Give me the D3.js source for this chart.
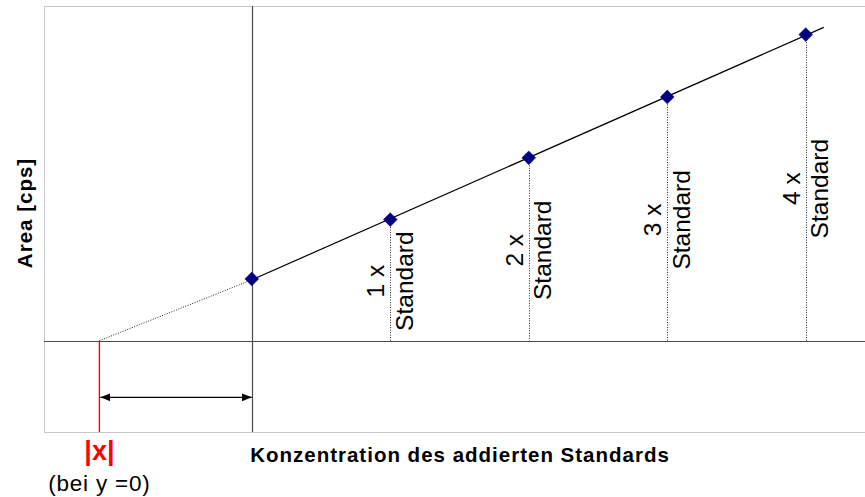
<!DOCTYPE html>
<html>
<head>
<meta charset="utf-8">
<script src="https://cdn.jsdelivr.net/npm/d3@7"></script>
<style>
  html, body { margin: 0; padding: 0; background: #fff; }
  svg { display: block; font-family: "Liberation Sans", Arial, sans-serif; }
</style>
</head>
<body>
<svg id="chart" width="865" height="497"></svg>
<script>
// Standard addition: signal vs. concentration of added standard
const concentration = [0, 1, 2, 3, 4];            // multiples of the standard added
const area = [20.3, 39.8, 60.1, 80.1, 100.6];     // measured area [cps]
const standardLabels = ["", "1 x", "2 x", "3 x", "4 x"];
const xIntercept = -1.1;                           // |x| read at y = 0
const trendEnd = 4.13;                             // right end of the trend line
const arrowLevel = -18.6;                          // height of the |x| distance arrow

const xTitle = "Konzentration des addierten Standards";
const yTitle = "Area [cps]";

const svg = d3.select("#chart");

const x = d3.scaleLinear().domain([-1.5, 4.5]).range([44, 875]);
const y = d3.scaleLinear().domain([-30, 110]).range([432, 6]);

// least-squares fit through the measured points
const mx = d3.mean(concentration), my = d3.mean(area);
const slope = d3.sum(concentration, (c, i) => (c - mx) * (area[i] - my)) /
              d3.sum(concentration, c => (c - mx) * (c - mx));
const intercept = my - slope * mx;
const fit = c => intercept + slope * c;

// plot frame
svg.append("rect")
  .attr("x", x(-1.5) + 0.5).attr("y", y(110) + 0.5)
  .attr("width", x(4.5) - x(-1.5)).attr("height", y(-30) - y(110))
  .attr("fill", "none").attr("stroke", "#c8c8c8").attr("stroke-width", 1);

// axes through the origin
svg.append("line")
  .attr("x1", x(-1.5)).attr("x2", x(4.5))
  .attr("y1", Math.round(y(0)) + 0.5).attr("y2", Math.round(y(0)) + 0.5)
  .attr("stroke", "#4a4a4a").attr("stroke-width", 1.2);
svg.append("line")
  .attr("x1", Math.round(x(0)) + 0.5).attr("x2", Math.round(x(0)) + 0.5)
  .attr("y1", y(110)).attr("y2", y(-30))
  .attr("stroke", "#4a4a4a").attr("stroke-width", 1.2);

// dotted drop lines from each addition to the baseline
svg.append("g").selectAll("line")
  .data(concentration.slice(1).map((c, i) => ({ c, a: area[i + 1] })))
  .join("line")
  .attr("x1", d => Math.round(x(d.c)) + 0.5).attr("x2", d => Math.round(x(d.c)) + 0.5)
  .attr("y1", d => y(d.a)).attr("y2", y(0))
  .attr("stroke", "#222").attr("stroke-width", 1).attr("stroke-dasharray", "1,1.5");

// extrapolation to y = 0 (dotted) and trend line (solid)
svg.append("line")
  .attr("x1", x(xIntercept)).attr("y1", y(0))
  .attr("x2", x(0)).attr("y2", y(fit(0)))
  .attr("stroke", "#222").attr("stroke-width", 1).attr("stroke-dasharray", "1,1.5");
svg.append("line")
  .attr("x1", x(0)).attr("y1", y(fit(0)))
  .attr("x2", x(trendEnd)).attr("y2", y(fit(trendEnd)))
  .attr("stroke", "#000").attr("stroke-width", 1.2);

// |x| marker line
svg.append("line")
  .attr("x1", x(xIntercept)).attr("x2", x(xIntercept))
  .attr("y1", y(0)).attr("y2", y(-30))
  .attr("stroke", "#ff0000").attr("stroke-width", 1.4);

// double-headed distance arrow
const defs = svg.append("defs");
defs.append("marker")
  .attr("id", "head").attr("markerUnits", "userSpaceOnUse")
  .attr("markerWidth", 11).attr("markerHeight", 9)
  .attr("refX", 10).attr("refY", 4)
  .attr("orient", "auto-start-reverse")
  .append("path").attr("d", "M0,0 L10,4 L0,8 Z").attr("fill", "#000");
svg.append("line")
  .attr("x1", x(xIntercept) + 1).attr("x2", x(0))
  .attr("y1", y(arrowLevel)).attr("y2", y(arrowLevel))
  .attr("stroke", "#000").attr("stroke-width", 1.3)
  .attr("marker-start", "url(#head)").attr("marker-end", "url(#head)");

// data points as diamonds
svg.append("g").selectAll("path")
  .data(concentration.map((c, i) => ({ c, a: area[i] })))
  .join("path")
  .attr("d", d3.symbol(d3.symbolSquare).size(95))
  .attr("transform", d => `translate(${x(d.c)},${y(d.a)}) rotate(45)`)
  .attr("fill", "#000080").attr("stroke", "#000080").attr("stroke-width", 0.5);

// rotated "n x / Standard" labels beside the drop lines
const lbl = svg.append("g").selectAll("g")
  .data(concentration.map((c, i) => ({ c, a: area[i], t: standardLabels[i] })).filter(d => d.t))
  .join("g");
lbl.append("text")
  .attr("transform", d => `translate(${x(d.c) - 6},${(y(d.a) + y(0)) / 2 + 1}) rotate(-90)`)
  .attr("text-anchor", "middle").attr("font-size", 24.5).attr("fill", "#000")
  .text(d => d.t);
lbl.append("text")
  .attr("transform", d => `translate(${x(d.c) + 22.5},${(y(d.a) + y(0)) / 2 + 1}) rotate(-90)`)
  .attr("text-anchor", "middle").attr("font-size", 24.5).attr("fill", "#000")
  .text("Standard");

// axis titles
svg.append("text")
  .attr("x", 460).attr("y", 462)
  .attr("text-anchor", "middle").attr("font-size", 20.5).attr("font-weight", "bold")
  .attr("letter-spacing", 1)
  .text(xTitle);
svg.append("text")
  .attr("transform", "translate(32,213) rotate(-90)")
  .attr("text-anchor", "middle").attr("font-size", 20.5).attr("font-weight", "bold")
  .attr("letter-spacing", 1)
  .text(yTitle);

// |x| annotation below the axis
svg.append("text")
  .attr("x", x(xIntercept)).attr("y", 460)
  .attr("text-anchor", "middle").attr("font-size", 27).attr("font-weight", "bold")
  .attr("fill", "#ff0000")
  .text("|x|");
svg.append("text")
  .attr("x", x(xIntercept)).attr("y", 491)
  .attr("text-anchor", "middle").attr("font-size", 22.5).attr("letter-spacing", 0.8)
  .text("(bei y =0)");
</script>
</body>
</html>
